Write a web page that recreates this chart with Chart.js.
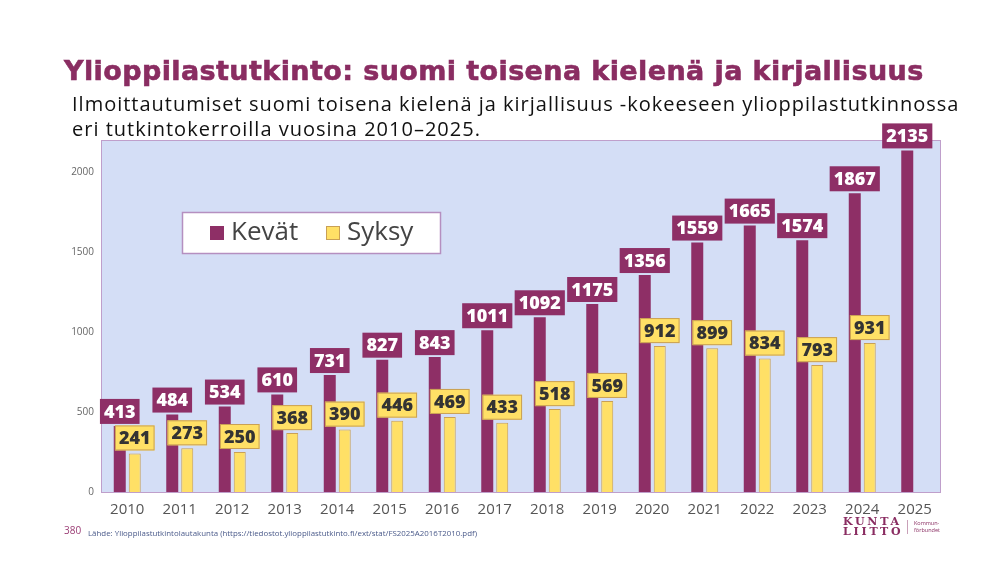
<!DOCTYPE html>
<html>
<head>
<meta charset="utf-8">
<script src="https://cdn.jsdelivr.net/npm/chart.js@4.4.1/dist/chart.umd.min.js"></script>
<style>
  html, body { margin: 0; padding: 0; background: #fff; }
  #wrap { position: relative; width: 1004px; height: 565px; overflow: hidden; }
  #chart { position: absolute; left: 0; top: 0; }
  .txt { position: absolute; white-space: nowrap; }
  #title { left: 64px; top: 55px; font-family: "DejaVu Sans", sans-serif; font-weight: bold; font-size: 27px; letter-spacing: 0.4px; color: #8a2d62; -webkit-text-stroke: 0.6px #8a2d62; }
  #sub { left: 72px; top: 91px; font-family: "Open Sans", sans-serif; font-size: 20px; line-height: 25px; letter-spacing: 1px; color: #111; }
  #page { left: 64px; top: 523px; font-family: "Open Sans", sans-serif; font-size: 10px; color: #9b3d75; }
  #src { left: 88px; top: 528px; font-family: "Open Sans", sans-serif; font-size: 7.9px; color: #4a5a8a; }
  #logo { left: 843px; top: 517px; font-family: "DejaVu Serif", serif; font-weight: bold; font-size: 11px; line-height: 10px; color: #8a2d62; letter-spacing: 2.8px; }
  #logo2 { left: 907px; top: 520px; font-family: "Open Sans", sans-serif; font-size: 5.5px; line-height: 7px; color: #8a2d62; border-left: 1px solid #c9a0b8; padding-left: 6px; }
</style>
</head>
<body>
<div id="wrap">
  <canvas id="chart" width="1004" height="565"></canvas>
  <div class="txt" id="title">Ylioppilastutkinto: suomi toisena kielenä ja kirjallisuus</div>
  <div class="txt" id="sub">Ilmoittautumiset suomi toisena kielenä ja kirjallisuus -kokeeseen ylioppilastutkinnossa<br>eri tutkintokerroilla vuosina 2010–2025.</div>
  <div class="txt" id="page">380</div>
  <div class="txt" id="src">Lähde: Ylioppilastutkintolautakunta (https://tiedostot.ylioppilastutkinto.fi/ext/stat/FS2025A2016T2010.pdf)</div>
  <div class="txt" id="logo">KUNTA<br>LIITTO</div>
  <div class="txt" id="logo2">Kommun-<br>förbundet</div>
</div>
<script>
const years = ["2010", "2011", "2012", "2013", "2014", "2015", "2016", "2017",
    "2018", "2019", "2020", "2021", "2022", "2023", "2024", "2025"];
const kevat = [413, 484, 534, 610, 731, 827, 843, 1011, 1092, 1175, 1356, 1559, 1665, 1574, 1867, 2135];
const syksy = [241, 273, 250, 368, 390, 446, 469, 433, 518, 569, 912, 899, 834, 793, 931, null];
const seriesNames = ["Kevät", "Syksy"];
const yTicks = [0, 500, 1000, 1500, 2000];

const purple = "#8e2f66";
const yellow = "#ffe066";
const yellowEdge = "#c9a055";

// plot background + frame
const plotBg = {
    id: "plotBg",
    beforeDraw(chart) {
        const a = chart.chartArea;
        const ctx = chart.ctx;
        ctx.save();
        ctx.fillStyle = "#d4def6";
        ctx.fillRect(a.left, a.top, a.right - a.left, a.bottom - a.top);
        ctx.strokeStyle = "#bf9fcb";
        ctx.lineWidth = 1;
        ctx.strokeRect(a.left + 0.5, a.top + 0.5, a.right - a.left - 1, a.bottom - a.top);
        ctx.restore();
    }
};

// boxed value labels above the bars
const valueBoxes = {
    id: "valueBoxes",
    afterDatasetsDraw(chart) {
        const ctx = chart.ctx;
        ctx.save();
        ctx.font = "800 18px 'Open Sans', sans-serif";
        ctx.textAlign = "center";
        ctx.textBaseline = "middle";
        chart.data.datasets.forEach((ds, i) => {
            const meta = chart.getDatasetMeta(i);
            meta.data.forEach((bar, j) => {
                const v = ds.data[j];
                if (v == null) return;
                const txt = String(v);
                const w = ctx.measureText(txt).width + 8;
                const h = 25;
                const x = bar.x - w / 2;
                const y = bar.y - (i === 0 ? 2 : 3) - h;
                if (i === 0) {
                    ctx.fillStyle = purple;
                    ctx.fillRect(x, y, w, h);
                    ctx.fillStyle = "#ffffff";
                } else {
                    ctx.fillStyle = yellow;
                    ctx.fillRect(x, y, w, h);
                    ctx.strokeStyle = yellowEdge;
                    ctx.lineWidth = 1;
                    ctx.strokeRect(x + 0.5, y + 0.5, w - 1, h - 1);
                    ctx.fillStyle = "#333333";
                }
                ctx.fillText(txt, bar.x, y + h / 2 + 1);
            });
        });
        ctx.restore();
    }
};

// legend box inside the plot
const innerLegend = {
    id: "innerLegend",
    afterDraw(chart) {
        const ctx = chart.ctx;
        ctx.save();
        ctx.fillStyle = "#ffffff";
        ctx.fillRect(182, 212, 258, 41);
        ctx.strokeStyle = "#b58fc0";
        ctx.lineWidth = 1.5;
        ctx.strokeRect(182.5, 212.5, 258, 41);
        ctx.font = "26px 'Open Sans', sans-serif";
        ctx.textBaseline = "middle";
        ctx.fillStyle = purple;
        ctx.fillRect(210, 226, 14, 14);
        ctx.fillStyle = "#444444";
        ctx.fillText(seriesNames[0], 231, 233);
        ctx.fillStyle = yellow;
        ctx.fillRect(326, 226, 14, 14);
        ctx.strokeStyle = yellowEdge;
        ctx.lineWidth = 1;
        ctx.strokeRect(326.5, 226.5, 13, 13);
        ctx.fillStyle = "#444444";
        ctx.fillText(seriesNames[1], 347, 233);
        ctx.restore();
    }
};

document.addEventListener("DOMContentLoaded", function () {
    const ctx = document.getElementById("chart").getContext("2d");
    new Chart(ctx, {
        type: "bar",
        data: {
            labels: years,
            datasets: [
                {
                    label: seriesNames[0],
                    data: kevat,
                    backgroundColor: purple,
                    categoryPercentage: 0.571,
                    barPercentage: 0.8,
                },
                {
                    label: seriesNames[1],
                    data: syksy,
                    backgroundColor: yellow,
                    borderColor: yellowEdge,
                    borderWidth: 1,
                    categoryPercentage: 0.571,
                    barPercentage: 0.8,
                },
            ],
        },
        options: {
            responsive: false,
            animation: false,
            layout: {
                padding: { left: 61, right: 63, top: 140, bottom: 43 },
            },
            plugins: {
                legend: { display: false },
                tooltip: { enabled: false },
            },
            scales: {
                x: {
                    grid: { display: false, drawTicks: false },
                    border: { display: false },
                    ticks: {
                        color: "#555555",
                        font: { family: "Open Sans", size: 15 },
                        padding: 9,
                    },
                    afterFit(s) { s.height = 30; },
                },
                y: {
                    min: 0,
                    max: 2200,
                    grid: { display: false, drawTicks: false },
                    border: { display: false },
                    ticks: {
                        autoSkip: false,
                        color: "#666666",
                        font: { family: "Open Sans", size: 10 },
                        padding: 7,
                        callback: (v) => String(v),
                    },
                    afterBuildTicks(s) {
                        s.ticks = yTicks.map((v) => ({ value: v }));
                    },
                    afterFit(s) { s.width = 40; },
                },
            },
        },
        plugins: [plotBg, valueBoxes, innerLegend],
    });
});
</script>
</body>
</html>
